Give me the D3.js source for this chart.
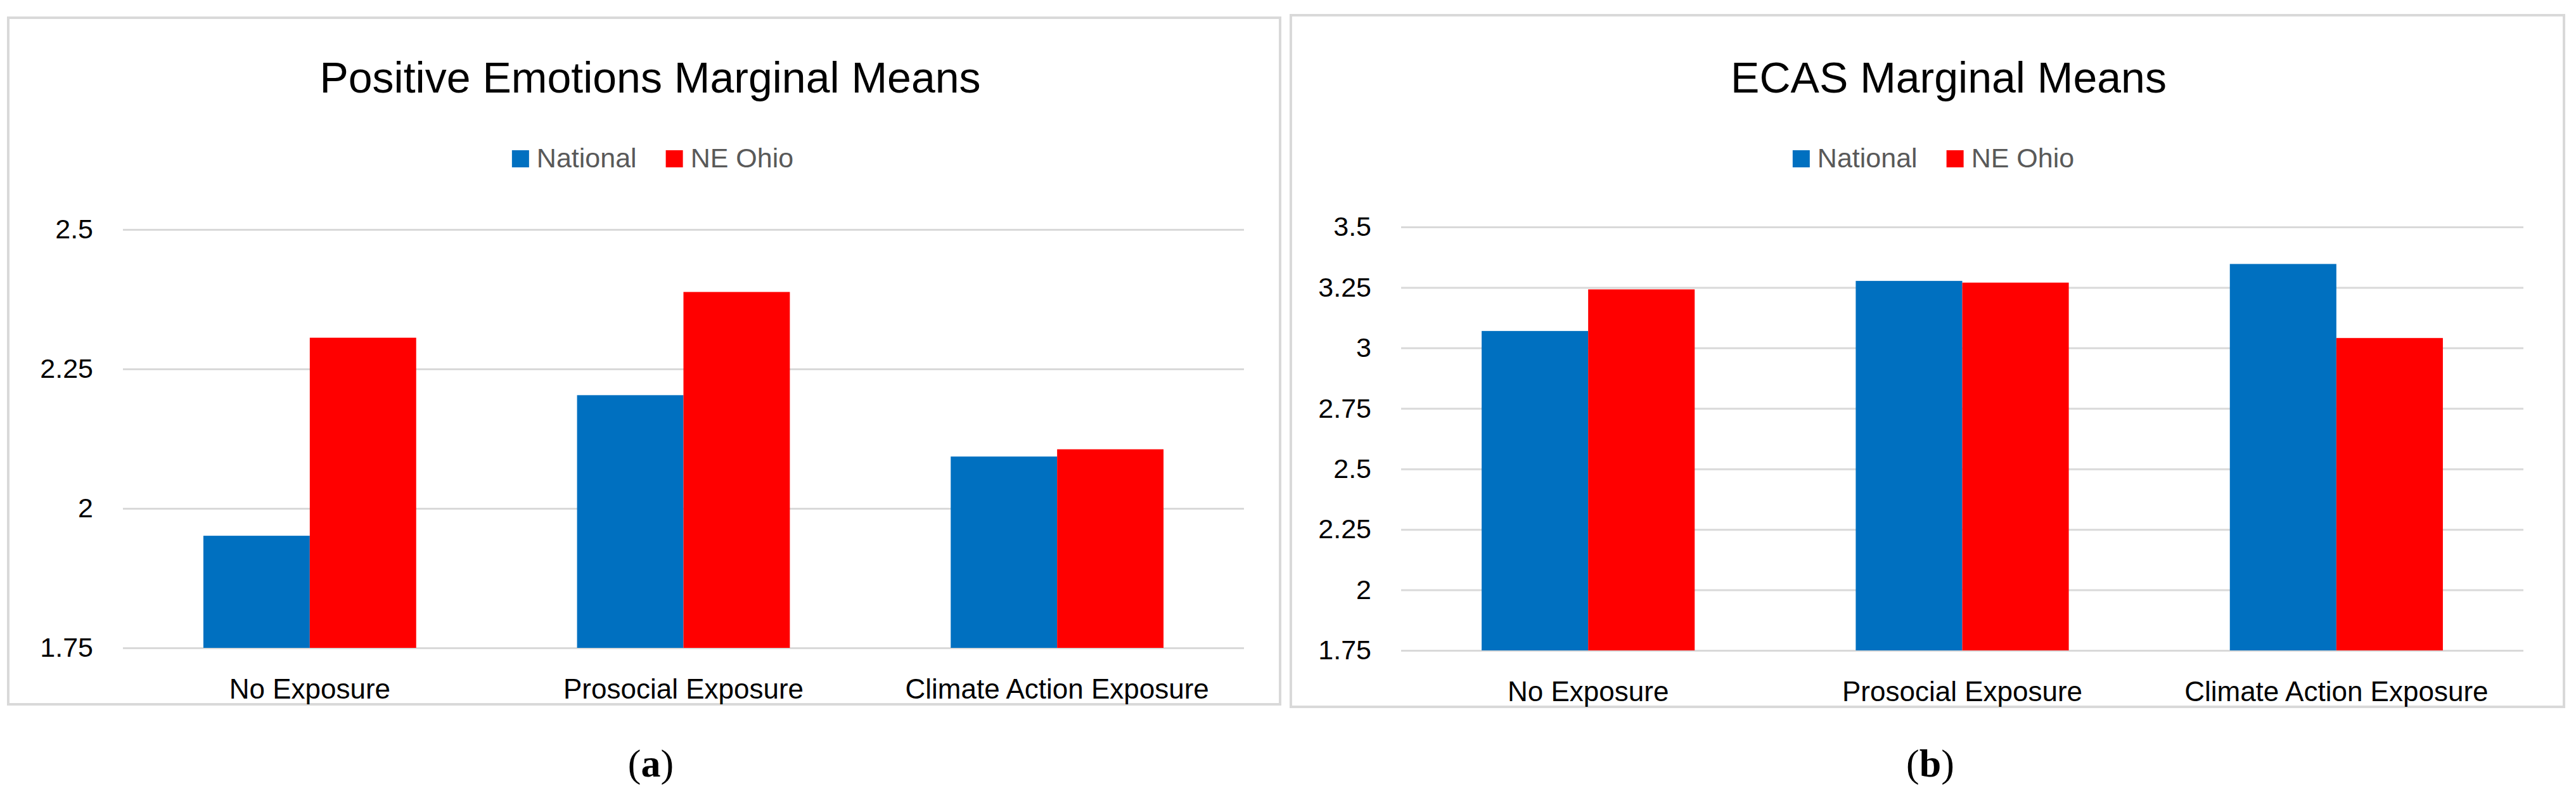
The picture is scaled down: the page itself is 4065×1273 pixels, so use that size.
<!DOCTYPE html>
<html>
<head>
<meta charset="utf-8">
<script src="https://cdn.jsdelivr.net/npm/d3@7"></script>
<style>
  body { margin: 0; background: #fff; }
  text { font-family: "Liberation Sans", Arial, sans-serif; }
</style>
</head>
<body>
<div id="chart"></div>
<script>
// data
var categories = ["No Exposure", "Prosocial Exposure", "Climate Action Exposure"];
var seriesNames = ["National", "NE Ohio"];
var seriesColors = ["#0070C0", "#FF0000"];

var posNational = [1.951, 2.203, 2.093];
var posNEOhio = [2.306, 2.388, 2.106];
var posTicks = [1.75, 2, 2.25, 2.5];

var ecasNational = [3.070, 3.277, 3.347];
var ecasNEOhio = [3.242, 3.270, 3.041];
var ecasTicks = [1.75, 2, 2.25, 2.5, 2.75, 3, 3.25, 3.5];

var svgWidth = 4065;
var svgHeight = 1273;

var svg = d3.select("#chart")
    .append("svg")
    .attr("width", svgWidth)
    .attr("height", svgHeight);

// panels
var panels = [
    {
        title: "Positive Emotions Marginal Means",
        tag: "a",
        values: [posNational, posNEOhio],
        ticks: posTicks,
        box: { x: 13, y: 28, w: 2007, h: 1083 },
        plot: { left: 194, right: 1963, top: 362, bottom: 1022 },
        titleX: 1026,
        legendX: 1030,
        tagX: 1027
    },
    {
        title: "ECAS Marginal Means",
        tag: "b",
        values: [ecasNational, ecasNEOhio],
        ticks: ecasTicks,
        box: { x: 2037, y: 24, w: 2009, h: 1091 },
        plot: { left: 2211, right: 3982, top: 358, bottom: 1026 },
        titleX: 3075,
        legendX: 3051,
        tagX: 3046
    }
];

panels.forEach(function(p) {
    var g = svg.append("g");

    // chart area border
    g.append("rect")
        .attr("x", p.box.x)
        .attr("y", p.box.y)
        .attr("width", p.box.w)
        .attr("height", p.box.h)
        .attr("fill", "#fff")
        .attr("stroke", "#d9d9d9")
        .attr("stroke-width", 4);

    var x = d3.scaleBand()
        .domain(categories)
        .range([p.plot.left, p.plot.right]);

    var xSub = d3.scaleBand()
        .domain(seriesNames)
        .range([0, x.bandwidth()])
        .paddingOuter(0.756);

    var y = d3.scaleLinear()
        .domain([p.ticks[0], p.ticks[p.ticks.length - 1]])
        .range([p.plot.bottom, p.plot.top]);

    // gridlines + y labels
    var leftAxis = d3.axisLeft(y)
        .tickValues(p.ticks)
        .tickFormat(function(d) { return String(d); })
        .tickSize(-(p.plot.right - p.plot.left))
        .tickPadding(47);

    var yAxis = g.append("g")
        .attr("transform", "translate(" + p.plot.left + ",0)")
        .call(leftAxis);
    yAxis.select(".domain").remove();
    yAxis.selectAll("line")
        .attr("stroke", "#d9d9d9")
        .attr("stroke-width", 3);
    yAxis.selectAll("text")
        .attr("font-size", 43)
        .attr("fill", "#000");

    // bars
    seriesNames.forEach(function(s, si) {
        g.append("g").selectAll("rect")
            .data(p.values[si])
            .enter()
            .append("rect")
            .attr("x", function(d, i) { return x(categories[i]) + xSub(s); })
            .attr("y", function(d) { return y(d); })
            .attr("width", xSub.bandwidth())
            .attr("height", function(d) { return y(p.ticks[0]) - y(d); })
            .attr("fill", seriesColors[si]);
    });

    // category labels
    var bottomAxis = d3.axisBottom(x).tickSize(0).tickPadding(0);
    var xAxis = g.append("g")
        .attr("transform", "translate(0," + p.plot.bottom + ")")
        .call(bottomAxis);
    xAxis.select(".domain").remove();
    xAxis.selectAll("text")
        .attr("y", 80)
        .attr("dy", 0)
        .attr("font-size", 44)
        .attr("fill", "#000");

    // title
    g.append("text")
        .attr("x", p.titleX)
        .attr("y", 146)
        .attr("text-anchor", "middle")
        .attr("font-size", 68)
        .attr("fill", "#000")
        .text(p.title);

    // legend
    var lg = g.append("g");
    var items = lg.selectAll("g")
        .data(seriesNames)
        .enter()
        .append("g");
    items.append("rect")
        .attr("width", 27)
        .attr("height", 27)
        .attr("y", 237)
        .attr("fill", function(d, i) { return seriesColors[i]; });
    items.append("text")
        .attr("x", 39)
        .attr("y", 264)
        .attr("font-size", 43)
        .attr("fill", "#595959")
        .text(function(d) { return d; });
    var offset = 0;
    items.each(function() {
        var node = d3.select(this);
        node.attr("transform", "translate(" + offset + ",0)");
        offset += this.getBBox().width + 46;
    });
    var legendW = offset - 46;
    lg.attr("transform", "translate(" + (p.legendX - legendW / 2) + ",0)");

    // panel tag
    var tag = g.append("text")
        .attr("x", p.tagX)
        .attr("y", 1225)
        .attr("text-anchor", "middle")
        .attr("font-size", 62)
        .attr("fill", "#000")
        .style("font-family", "'Liberation Serif', 'DejaVu Serif', serif");
    tag.append("tspan").text("(");
    tag.append("tspan").attr("font-weight", "bold").text(p.tag);
    tag.append("tspan").text(")");
});
</script>
</body>
</html>
